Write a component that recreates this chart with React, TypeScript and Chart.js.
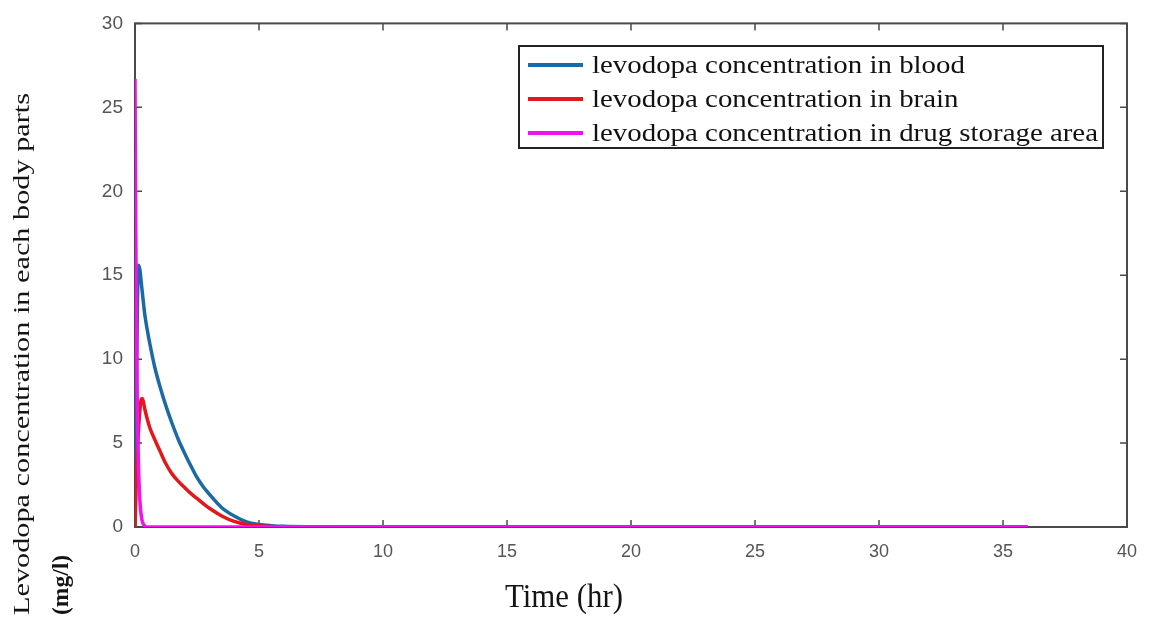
import React, { useEffect, useRef } from "react";
import { Chart, registerables } from "chart.js";

Chart.register(...registerables);

// ---- data ----
const timeHours = [0, 0.05, 0.1, 0.15, 0.2, 0.25, 0.3, 0.4, 0.5, 0.6, 0.8, 1.0, 1.25, 1.5, 1.75, 2.0, 2.25, 2.5, 2.75, 3.0, 3.5, 4.0, 4.5, 5.0, 5.5, 6, 7, 8, 10, 15, 20, 25, 30, 36];
const bloodConc = [0, 7, 13.5, 15.6, 15.3, 14.6, 13.9, 12.6, 11.7, 10.9, 9.5, 8.4, 7.2, 6.15, 5.2, 4.4, 3.65, 2.95, 2.4, 1.95, 1.15, 0.65, 0.3, 0.15, 0.08, 0.04, 0.01, 0, 0, 0, 0, 0, 0, 0];
const brainConc = [0, 2.6, 4.6, 6.0, 7.0, 7.6, 7.65, 7.0, 6.4, 5.9, 5.2, 4.55, 3.75, 3.15, 2.72, 2.35, 2.0, 1.7, 1.4, 1.12, 0.66, 0.33, 0.15, 0.07, 0.03, 0.01, 0, 0, 0, 0, 0, 0, 0, 0];
const storageConc = [26.7, 13, 6.5, 3.2, 1.5, 0.7, 0.3, 0.05, 0, 0, 0, 0, 0, 0, 0, 0, 0, 0, 0, 0, 0, 0, 0, 0, 0, 0, 0, 0, 0, 0, 0, 0, 0, 0];

const seriesLabels = [
  "levodopa concentration in blood",
  "levodopa concentration in brain",
  "levodopa concentration in drug storage area",
];
const seriesColors = ["#1b6aa6", "#e2181c", "#f012f0"];

const xAxisTitle = "Time (hr)";
const yAxisTitleLines = ["Levodopa concentration in each body parts", "(mg/l)"];

const SERIF = "'Liberation Serif', 'Times New Roman', serif";
const SANS = "'Liberation Sans', Arial, sans-serif";

function fitText(ctx: CanvasRenderingContext2D, text: string, x: number, y: number, width: number) {
  const w = ctx.measureText(text).width;
  ctx.save();
  ctx.translate(x, y);
  ctx.scale(width / w, 1);
  ctx.fillText(text, 0, 0);
  ctx.restore();
}

const framePlugin = {
  id: "matlabFrame",
  beforeDatasetsDraw(chart: any) {
    const { ctx, chartArea, scales } = chart;
    const { left, right, top, bottom } = chartArea;
    ctx.save();
    ctx.strokeStyle = "#4a4a4a";
    ctx.lineWidth = 2;
    ctx.strokeRect(left, top, right - left, bottom - top);
    const tl = 7;
    ctx.lineWidth = 1.5;
    ctx.beginPath();
    scales.x.ticks.forEach((t: any) => {
      const px = scales.x.getPixelForValue(t.value);
      ctx.moveTo(px, bottom);
      ctx.lineTo(px, bottom - tl);
      ctx.moveTo(px, top);
      ctx.lineTo(px, top + tl);
    });
    scales.y.ticks.forEach((t: any) => {
      const py = scales.y.getPixelForValue(t.value);
      ctx.moveTo(left, py);
      ctx.lineTo(left + tl, py);
      ctx.moveTo(right, py);
      ctx.lineTo(right - tl, py);
    });
    ctx.stroke();
    ctx.restore();
  },
};

const legendPlugin = {
  id: "boxLegend",
  afterDatasetsDraw(chart: any) {
    const { ctx } = chart;
    const bx = 519, by = 46, bw = 584, bh = 102;
    ctx.save();
    ctx.fillStyle = "#ffffff";
    ctx.fillRect(bx, by, bw, bh);
    ctx.strokeStyle = "#222222";
    ctx.lineWidth = 2;
    ctx.strokeRect(bx, by, bw, bh);
    const rows = [65, 99, 133];
    ctx.font = `25px ${SERIF}`;
    ctx.textBaseline = "middle";
    ctx.textAlign = "left";
    const longest = Math.max(...chart.data.datasets.map((d: any) => ctx.measureText(d.label).width));
    const stretch = 506 / longest;
    chart.data.datasets.forEach((ds: any, i: number) => {
      const y = rows[i];
      ctx.strokeStyle = ds.borderColor;
      ctx.lineWidth = 4;
      ctx.beginPath();
      ctx.moveTo(528, y);
      ctx.lineTo(583, y);
      ctx.stroke();
      ctx.fillStyle = "#111111";
      const w = ctx.measureText(ds.label).width;
      fitText(ctx, ds.label, 592, y + 1, w * stretch);
    });
    ctx.restore();
  },
};

const titlesPlugin = {
  id: "axisTitles",
  afterDraw(chart: any) {
    const { ctx } = chart;
    ctx.save();
    ctx.fillStyle = "#141414";
    ctx.textAlign = "left";
    ctx.textBaseline = "alphabetic";
    // x title
    ctx.font = `34px ${SERIF}`;
    fitText(ctx, xAxisTitle, 505, 607, 118);
    // y title (rotated)
    const lines = [
      { text: yAxisTitleLines[0], base: 29, len: 522, font: `23px ${SERIF}` },
      { text: yAxisTitleLines[1], base: 68, len: 60, font: `bold 24px ${SERIF}` },
    ];
    lines.forEach((l) => {
      ctx.save();
      ctx.font = l.font;
      ctx.translate(l.base, 615);
      ctx.rotate(-Math.PI / 2);
      fitText(ctx, l.text, 0, 0, l.len);
      ctx.restore();
    });
    ctx.restore();
  },
};

export default function App() {
  const canvasRef = useRef<HTMLCanvasElement | null>(null);

  useEffect(() => {
    if (!canvasRef.current) return;
    const series = [bloodConc, brainConc, storageConc];
    const chart = new Chart(canvasRef.current, {
      type: "line",
      data: {
        datasets: series.map((vals, i) => ({
          label: seriesLabels[i],
          data: timeHours.map((t, k) => ({ x: t, y: vals[k] })),
          borderColor: seriesColors[i],
          backgroundColor: seriesColors[i],
          borderWidth: 3.5,
          pointRadius: 0,
          cubicInterpolationMode: "monotone",
          fill: false,
          order: 3 - i,
        })),
      },
      options: {
        animation: false,
        responsive: false,
        devicePixelRatio: 1,
        layout: { padding: { top: 19, right: 21, left: 0, bottom: 0 } },
        plugins: {
          legend: { display: false },
          tooltip: { enabled: false },
          title: { display: false },
        },
        scales: {
          x: {
            type: "linear",
            min: 0,
            max: 40,
            ticks: {
              stepSize: 5,
              color: "#555555",
              font: { family: SANS, size: 18 },
              padding: 14,
              maxRotation: 0,
            },
            grid: { display: false, drawTicks: false },
            border: { display: false },
            afterFit: (scale: any) => {
              scale.height = 92;
            },
          },
          y: {
            min: 0,
            max: 30,
            ticks: {
              stepSize: 5,
              color: "#555555",
              font: { family: SANS, size: 19 },
              padding: 12,
            },
            grid: { display: false, drawTicks: false },
            border: { display: false },
            afterFit: (scale: any) => {
              scale.width = 135;
            },
          },
        },
      },
      plugins: [framePlugin, legendPlugin, titlesPlugin],
    });
    return () => chart.destroy();
  }, []);

  return (
    <div style={{ position: "absolute", left: 0, top: 0, width: 1151, height: 619, background: "#ffffff" }}>
      <canvas ref={canvasRef} width={1151} height={619} />
    </div>
  );
}
